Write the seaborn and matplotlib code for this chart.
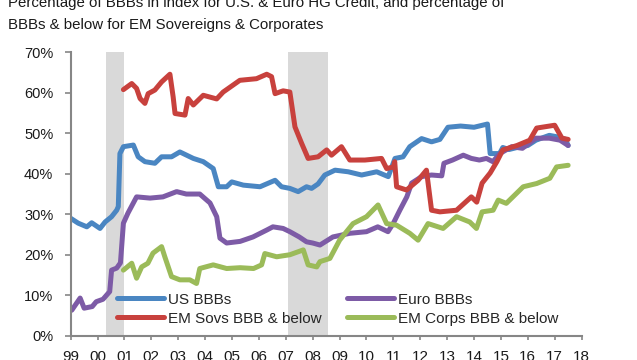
import matplotlib
matplotlib.use('Agg')
import matplotlib.pyplot as plt
import seaborn as sns
from matplotlib.ticker import FuncFormatter

# Data (values in %)
us_years = [1999.0, 1999.28, 1999.6, 1999.78, 2000.09, 2000.28, 2000.52, 2000.71, 2000.77, 2000.83,
            2000.96, 2001.33, 2001.51, 2001.76, 2002.13, 2002.38, 2002.75, 2003.06, 2003.56, 2003.93,
            2004.3, 2004.49, 2004.8, 2004.99, 2005.42, 2006.04, 2006.6, 2006.84, 2007.15, 2007.46,
            2007.77, 2007.96, 2008.2, 2008.45, 2008.83, 2009.32, 2009.82, 2010.38, 2010.81, 2011.06,
            2011.36, 2011.61, 2012.05, 2012.42, 2012.73, 2013.03, 2013.5, 2014.0, 2014.5, 2014.6,
            2014.95, 2015.07, 2015.3, 2015.6, 2016.0, 2016.3, 2016.8, 2017.2, 2017.4, 2017.5]
us_bbb = [29.0, 27.8, 26.9, 27.9, 26.5, 28.1, 29.4, 31.0, 31.9, 45.0,
          46.7, 47.1, 44.2, 43.0, 42.6, 44.2, 44.2, 45.4, 43.8, 43.0,
          41.3, 36.8, 36.8, 38.0, 37.2, 36.8, 38.4, 36.8, 36.4, 35.6,
          36.8, 36.4, 37.5, 39.7, 40.9, 40.5, 39.7, 40.5, 39.3, 43.8,
          44.2, 46.7, 48.7, 47.9, 48.5, 51.5, 51.8, 51.5, 52.3, 45.0,
          45.0, 46.5, 46.0, 46.5, 47.0, 48.3, 49.5, 49.0, 48.5, 47.0]

euro_years = [1999.04, 1999.35, 1999.5, 1999.8, 1999.95, 2000.2, 2000.45, 2000.52, 2000.71, 2000.85,
              2000.96, 2001.13, 2001.45, 2001.95, 2002.43, 2002.94, 2003.3, 2003.8, 2004.18, 2004.43,
              2004.55, 2004.8, 2005.3, 2005.78, 2006.29, 2006.52, 2006.9, 2007.15, 2007.5, 2007.77,
              2008.0, 2008.27, 2008.75, 2009.38, 2010.0, 2010.42, 2010.8, 2011.0, 2011.24, 2011.5,
              2011.68, 2012.05, 2012.42, 2012.8, 2012.88, 2013.2, 2013.6, 2013.9, 2014.2, 2014.46,
              2014.7, 2014.96, 2015.4, 2015.8, 2016.3, 2016.8, 2017.2, 2017.5]
euro_bbb = [6.3, 9.3, 6.8, 7.2, 8.4, 9.0, 10.9, 16.2, 16.7, 18.0,
            27.8, 30.3, 34.3, 34.0, 34.3, 35.6, 35.0, 35.0, 32.8, 29.4,
            24.1, 22.9, 23.3, 24.4, 26.1, 26.9, 26.5, 25.7, 24.4, 23.2,
            22.9, 22.4, 24.4, 25.3, 25.7, 26.9, 25.7, 27.8, 31.0, 34.3,
            37.7, 39.3, 39.7, 39.5, 42.6, 43.4, 44.6, 43.8, 43.4, 43.8,
            43.0, 45.0, 46.7, 46.3, 48.8, 48.8, 48.3, 47.0]

sov_years = [2000.96, 2001.27, 2001.45, 2001.58, 2001.76, 2001.88, 2002.13, 2002.38, 2002.69, 2002.81,
             2002.88, 2003.25, 2003.37, 2003.56, 2003.93, 2004.43, 2004.67, 2005.29, 2005.91, 2006.29,
             2006.47, 2006.6, 2006.9, 2007.15, 2007.34, 2007.59, 2007.83, 2008.2, 2008.52, 2008.7,
             2009.07, 2009.38, 2009.94, 2010.56, 2010.75, 2011.0, 2011.05, 2011.12, 2011.49, 2011.92,
             2012.23, 2012.42, 2012.73, 2013.35, 2013.9, 2014.1, 2014.3, 2014.6, 2014.85, 2015.07,
             2015.6, 2016.07, 2016.33, 2017.0, 2017.27, 2017.5]
em_sovs = [60.8, 62.3, 61.1, 58.6, 57.4, 59.8, 60.7, 62.7, 64.6, 59.0,
           54.9, 54.5, 58.6, 57.0, 59.4, 58.5, 60.2, 63.1, 63.5, 64.6,
           64.0, 59.8, 60.5, 60.2, 51.6, 47.5, 43.8, 44.2, 45.9, 44.6,
           46.7, 43.4, 43.4, 43.8, 41.3, 41.7, 43.0, 36.8, 36.0, 38.4,
           40.9, 31.0, 30.6, 31.0, 34.3, 33.0, 37.7, 40.2, 43.0, 45.9,
           47.0, 48.3, 51.3, 52.0, 48.8, 48.5]

corp_years = [2000.96, 2001.27, 2001.45, 2001.64, 2001.87, 2002.06, 2002.38, 2002.5, 2002.75, 2003.06,
              2003.43, 2003.68, 2003.8, 2004.3, 2004.8, 2005.3, 2005.8, 2006.1, 2006.22, 2006.66,
              2007.15, 2007.65, 2007.83, 2008.15, 2008.27, 2008.64, 2009.0, 2009.5, 2010.0, 2010.43,
              2010.75, 2011.12, 2011.61, 2011.92, 2012.29, 2012.85, 2013.35, 2013.84, 2014.09, 2014.3,
              2014.71, 2014.9, 2015.2, 2015.83, 2016.33, 2016.82, 2017.07, 2017.5]
em_corps = [16.2, 17.9, 14.2, 17.0, 17.9, 20.4, 22.0, 19.5, 14.6, 13.8,
            13.8, 12.9, 16.6, 17.5, 16.6, 16.8, 16.6, 17.5, 20.3, 19.5,
            20.0, 21.2, 17.5, 17.0, 18.3, 19.1, 23.6, 27.7, 29.4, 32.3,
            27.7, 27.3, 25.3, 23.6, 27.7, 26.5, 29.4, 28.1, 26.5, 30.6,
            31.0, 33.5, 32.7, 36.8, 37.6, 38.9, 41.7, 42.1]

recessions = [(2000.33, 2001.0), (2007.08, 2008.58)]
year_ticks = list(range(1999, 2019))
year_labels = [f'{y % 100:02d}' for y in year_ticks]
pct_ticks = [0, 10, 20, 30, 40, 50, 60, 70]

sns.set_style('white')
plt.rcParams['font.family'] = ['Liberation Sans', 'DejaVu Sans']

fig = plt.figure(figsize=(6.37, 3.6), dpi=100)
ax = fig.add_axes([0.111, 0.0675, 0.802, 0.787])

# shaded periods
for x0, x1 in recessions:
    ax.axvspan(x0, x1, color='#D9D9D9', lw=0, zorder=0)

lw = 3.6
sns.lineplot(x=us_years, y=us_bbb, ax=ax, color='#4A86C2', lw=lw, sort=False, estimator=None, label='US BBBs')
sns.lineplot(x=euro_years, y=euro_bbb, ax=ax, color='#7D5BA6', lw=lw, sort=False, estimator=None, label='Euro BBBs')
sns.lineplot(x=corp_years, y=em_corps, ax=ax, color='#9BBB59', lw=lw, sort=False, estimator=None, label='EM Corps BBB & below')
sns.lineplot(x=sov_years, y=em_sovs, ax=ax, color='#C8413D', lw=lw, sort=False, estimator=None, label='EM Sovs BBB & below')

handles, labels = ax.get_legend_handles_labels()
order = [0, 3, 1, 2]
ax.legend([handles[i] for i in order], [labels[i] for i in order], ncol=2,
          loc='upper left', bbox_to_anchor=(0.09, 0.152), frameon=False, fontsize=11,
          handlelength=3.1, handletextpad=0.25, columnspacing=1.65, labelspacing=0.33,
          borderpad=0, borderaxespad=0)

ax.set_xlim(1999, 2018)
ax.set_ylim(0, 70)
ax.set_xticks(year_ticks)
ax.set_xticklabels(year_labels)
ax.set_yticks(pct_ticks)
ax.yaxis.set_major_formatter(FuncFormatter(lambda v, p: f'{v:.0f}%'))
ax.set_xlabel('')
ax.set_ylabel('')

for s in ['top', 'right']:
    ax.spines[s].set_visible(False)
for s in ['left', 'bottom']:
    ax.spines[s].set_color('#868686')
    ax.spines[s].set_linewidth(1.5)
ax.tick_params(axis='y', left=True, direction='out', length=4, width=1.2, color='#868686',
               labelsize=10.5, pad=8.5, labelcolor='#1a1a1a')
ax.tick_params(axis='x', bottom=True, direction='out', length=3, width=1.2, color='#868686',
               labelsize=11, pad=7, labelcolor='#1a1a1a')

fig.text(0.013, 0.981, 'Percentage of BBBs in index for U.S. & Euro HG Credit, and percentage of',
         fontsize=10.8, ha='left', va='baseline', color='#1a1a1a')
fig.text(0.013, 0.919, 'BBBs & below for EM Sovereigns & Corporates',
         fontsize=10.8, ha='left', va='baseline', color='#1a1a1a')

fig.savefig('out.png', dpi=100)
